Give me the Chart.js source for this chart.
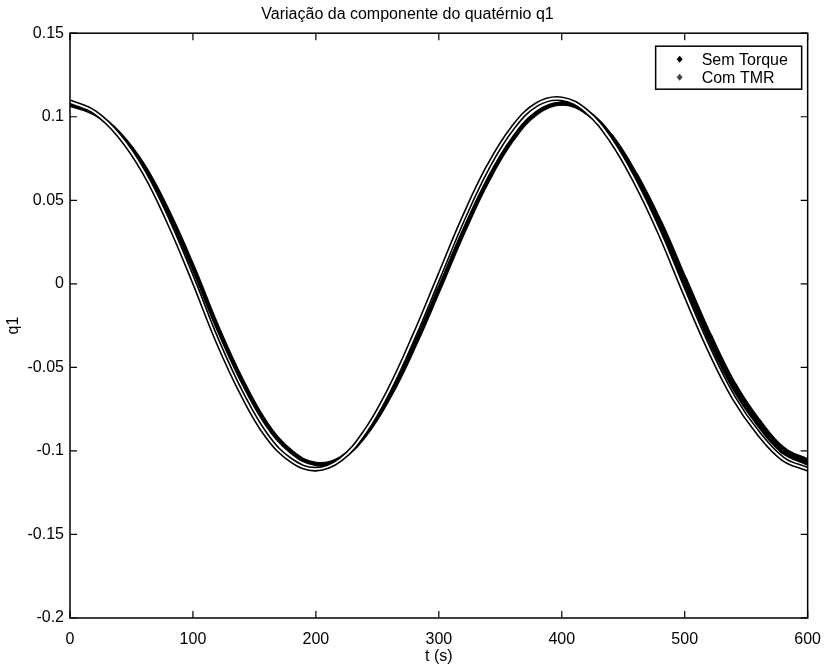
<!DOCTYPE html>
<html>
<head>
<meta charset="utf-8">
<script src="https://cdn.jsdelivr.net/npm/chart.js@4.4.0/dist/chart.umd.min.js"></script>
<style>
  body{margin:0;background:#fff}
  canvas{display:block}
</style>
</head>
<body>
<canvas id="q1Chart" width="825" height="668"></canvas>
<script>
// dados
var tempo = [0,20,40,60,80,100,120,140,160,180,200,220,240,260,280,300,320,340,360,380,400,420,440,460,480,500,520,540,560,580,600];
var semTorque = [0.1072,0.102,0.090,0.0705,0.043,0.0101,-0.026,-0.058,-0.084,-0.1005,-0.1078,-0.1045,-0.0905,-0.0673,-0.0373,-0.0035,0.031,0.062,0.0865,0.1025,0.108,0.1029,0.0882,0.065,0.036,0.002,-0.0315,-0.061,-0.083,-0.0996,-0.1067];
var comTMR = [0.109,0.1027,0.0887,0.067,0.0373,0.0026,-0.0344,-0.066,-0.0909,-0.1057,-0.1109,-0.1052,-0.0886,-0.063,-0.031,0.0041,0.0392,0.0699,0.0933,0.1075,0.1107,0.1033,0.0861,0.0607,0.0298,-0.0056,-0.0394,-0.0683,-0.0895,-0.1048,-0.111];
var nomes = ['Sem Torque','Com TMR'];
var xTicks = [0,100,200,300,400,500,600];
var yTicks = [0.15,0.1,0.05,0,-0.05,-0.1,-0.15,-0.2];
var yTickLabels = ['0.15','0.1','0.05','0','-0.05','-0.1','-0.15','-0.2'];

var fonte = "'Liberation Sans', Arial, sans-serif";

function pontos(serie){
  return tempo.map(function(t,i){ return {x:t, y:serie[i]}; });
}

// moldura, marcas de escala e legenda estilo matlab
var molduraPlugin = {
  id:'moldura',
  afterDatasetsDraw:function(chart){
    var ctx = chart.ctx, a = chart.chartArea;
    var sx = chart.scales.x, sy = chart.scales.y;
    ctx.save();
    ctx.strokeStyle = '#000';
    ctx.lineWidth = 1.5;
    ctx.strokeRect(a.left, a.top, a.right-a.left, a.bottom-a.top);
    ctx.lineWidth = 1.2;
    ctx.beginPath();
    xTicks.forEach(function(v){
      var px = sx.getPixelForValue(v);
      ctx.moveTo(px,a.bottom); ctx.lineTo(px,a.bottom-7);
      ctx.moveTo(px,a.top); ctx.lineTo(px,a.top+7);
    });
    yTicks.forEach(function(v){
      var py = sy.getPixelForValue(v);
      ctx.moveTo(a.left,py); ctx.lineTo(a.left+7,py);
      ctx.moveTo(a.right,py); ctx.lineTo(a.right-7,py);
    });
    ctx.stroke();

    // legenda
    var bx = a.right-152, by = a.top+13, bw = 146, bh = 43;
    ctx.fillStyle = '#fff';
    ctx.fillRect(bx,by,bw,bh);
    ctx.lineWidth = 1.5;
    ctx.strokeRect(bx,by,bw,bh);
    ctx.font = '16px ' + fonte;
    ctx.textBaseline = 'middle';
    ctx.textAlign = 'left';
    nomes.forEach(function(n,i){
      var yy = by + 13 + i*18;
      ctx.fillStyle = i===0 ? '#000' : '#444';
      ctx.beginPath();
      ctx.moveTo(bx+24,yy-3.5); ctx.lineTo(bx+27,yy); ctx.lineTo(bx+24,yy+3.5); ctx.lineTo(bx+21,yy);
      ctx.closePath(); ctx.fill();
      ctx.fillStyle = '#000';
      ctx.fillText(n, bx+46, yy+1);
    });
    ctx.restore();
  }
};

new Chart(document.getElementById('q1Chart'), {
  type:'line',
  data:{
    datasets:[
      {label:nomes[1]+' (interior)', data:pontos(comTMR), borderColor:'#fff', borderWidth:1.8, pointRadius:0, tension:0.4, order:0},
      {label:nomes[1], data:pontos(comTMR), borderColor:'#000', borderWidth:5, pointRadius:0, tension:0.4, order:1},
      {label:nomes[0], data:pontos(semTorque), borderColor:'#000', borderWidth:4.5, pointRadius:0, tension:0.4, order:2,
        borderCapStyle:'round', borderJoinStyle:'round',
        // o traco fica mais grosso no fim (pontos mais espalhados)
        segment:{borderWidth:function(c){ var x = c.p0.parsed.x; return x > 380 ? 4.5 + (x-380)/220*3 : 4.5; }}}
    ]
  },
  plugins:[molduraPlugin],
  options:{
    responsive:false,
    animation:false,
    layout:{padding:{left:0,right:10,top:0,bottom:0}},
    plugins:{
      legend:{display:false},
      tooltip:{enabled:false},
      title:{display:true, text:'Variação da componente do quatérnio q1', color:'#000',
        font:{family:fonte, size:16, weight:'normal'}, padding:{top:5,bottom:9}}
    },
    scales:{
      x:{
        type:'linear', min:0, max:600,
        grid:{display:false}, border:{display:false},
        afterBuildTicks:function(s){ s.ticks = xTicks.map(function(v){return {value:v};}); },
        afterFit:function(s){ s.height = 50; },
        ticks:{color:'#000', font:{family:fonte, size:16}, padding:4, maxRotation:0,
          callback:function(v){ return String(v); }},
        title:{display:true, text:'t (s)', color:'#000', font:{family:fonte, size:16}, padding:{top:0,bottom:2}}
      },
      y:{
        min:-0.2, max:0.15,
        grid:{display:false, drawTicks:false, tickLength:0}, border:{display:false},
        afterBuildTicks:function(s){ s.ticks = yTicks.map(function(v){return {value:v};}); },
        afterFit:function(s){ s.width = 70; },
        ticks:{color:'#000', font:{family:fonte, size:16}, padding:6,
          callback:function(v){ var i = yTicks.indexOf(v); return i>=0 ? yTickLabels[i] : ''; }},
        title:{display:true, text:'q1', color:'#000', font:{family:fonte, size:16}, padding:{top:4,bottom:0}}
      }
    }
  }
});
</script>
</body>
</html>
